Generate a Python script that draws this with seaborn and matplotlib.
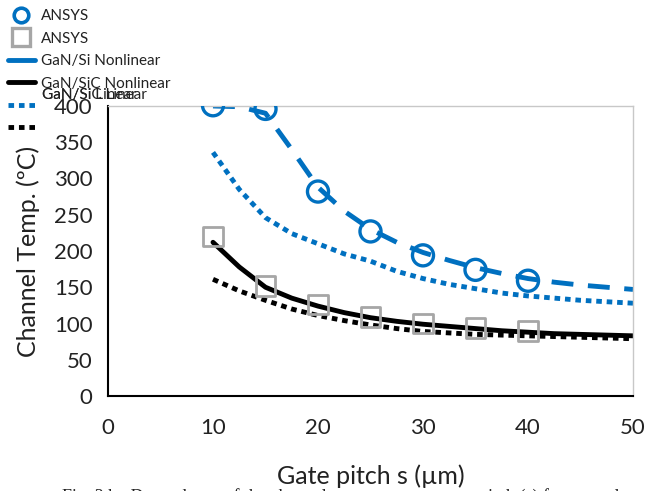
import matplotlib
matplotlib.use("Agg")
import matplotlib.pyplot as plt
from matplotlib.lines import Line2D
import seaborn as sns
import pandas as pd

# ---- data ----
ansys_x = [10, 15, 20, 25, 30, 35, 40]
ansys_si = [401, 396, 282, 227, 194, 174, 159]
ansys_sic = [220, 152, 126, 109, 100, 94, 90]

curve_x = [10, 12.5, 15, 17.5, 20, 22.5, 25, 27.5, 30, 32.5, 35, 37.5, 40, 42.5, 45, 47.5, 50]
si_nonlinear = [400, 399, 390, 340, 288, 255, 230, 212, 198, 187, 177, 169, 162, 157, 153, 150, 147]
sic_nonlinear = [212, 178, 150, 135, 124, 115, 108, 103, 99, 96, 93, 90, 88, 86, 85, 84, 83]
si_linear = [336, 285, 246, 224, 210, 196, 186, 172, 162, 154, 148, 142, 138, 135, 132, 130, 128]
sic_linear = [161, 145, 132, 120, 111, 104, 98, 93, 89, 87, 85, 84, 83, 82, 81, 80, 79]

x_ticks = [0, 10, 20, 30, 40, 50]
y_ticks = [0, 50, 100, 150, 200, 250, 300, 350, 400]

BLUE = "#0070C0"
GRAY = "#A6A6A6"
TXT = "#222222"

sns.set_theme(style="white")
plt.rcParams['font.family'] = ['Lato', 'DejaVu Sans']

fig = plt.figure(figsize=(6.47, 4.91), dpi=100)
ax = fig.add_axes([108/647, 1-396/491, (633-108)/647, (396-106)/491])

curves = pd.DataFrame({"x": curve_x, "si_nl": si_nonlinear, "sic_nl": sic_nonlinear,
                       "si_l": si_linear, "sic_l": sic_linear})
pts = pd.DataFrame({"x": ansys_x, "si": ansys_si, "sic": ansys_sic})

lw = 3.5
DOT = (0, (1.15, 1.0))
DASH = (0, (4.5, 3.0))
sns.lineplot(data=curves, x="x", y="si_l", ax=ax, color=BLUE, lw=lw,
             linestyle=DOT, dash_capstyle="butt")
sns.lineplot(data=curves, x="x", y="sic_l", ax=ax, color="black", lw=lw,
             linestyle=DOT, dash_capstyle="butt")
sns.lineplot(data=curves, x="x", y="sic_nl", ax=ax, color="black", lw=lw)
sns.lineplot(data=curves, x="x", y="si_nl", ax=ax, color=BLUE, lw=lw,
             linestyle=DASH, dash_capstyle="butt")
sns.scatterplot(data=pts, x="x", y="si", ax=ax, marker="o", s=230,
                facecolor="none", edgecolor=BLUE, linewidth=2.4, zorder=5)
sns.scatterplot(data=pts, x="x", y="sic", ax=ax, marker="s", s=200,
                facecolor="none", edgecolor=GRAY, linewidth=2.0, zorder=4)

ax.set_xlim(0, 50)
ax.set_ylim(0, 400)
ax.set_xticks(x_ticks)
ax.set_yticks(y_ticks)
ax.tick_params(axis="both", direction="in", length=7, width=1.2, colors="black",
               labelsize=16, labelcolor=TXT)
ax.tick_params(axis="x", pad=16)
ax.tick_params(axis="y", pad=11)
for s in ["left", "bottom"]:
    ax.spines[s].set_color("black")
    ax.spines[s].set_linewidth(1.5)
for s in ["top", "right"]:
    ax.spines[s].set_color("#C8C8C8")
    ax.spines[s].set_linewidth(1.0)
ax.set_xlabel("Gate pitch s (µm)", fontsize=18, color=TXT, labelpad=19)
ax.set_ylabel("Channel Temp. (ºC)", fontsize=18, color=TXT, labelpad=10)

handles = [
    Line2D([], [], marker="o", ls="none", mfc="none", mec=BLUE, ms=10.5, mew=2.6),
    Line2D([], [], marker="s", ls="none", mfc="none", mec=GRAY, ms=13, mew=2.4),
    Line2D([], [], color=BLUE, lw=lw),
    Line2D([], [], color="black", lw=lw),
    Line2D([], [], color=BLUE, lw=lw, linestyle=DOT, dash_capstyle="butt"),
    Line2D([], [], color="black", lw=lw, linestyle=DOT, dash_capstyle="butt"),
]
labels = ["ANSYS", "ANSYS", "GaN/Si Nonlinear", "GaN/SiC Nonlinear", "", ""]
leg = fig.legend(handles, labels, loc="upper left", bbox_to_anchor=(8/647, 1-9/491),
                 frameon=False, fontsize=11, handlelength=1.75, handletextpad=0.4,
                 labelspacing=0.56, borderaxespad=0, borderpad=0)
for t in leg.get_texts():
    t.set_color(TXT)
fig.text(42/647, 1-95/491, "GaN/Si Linear", fontsize=11, color=TXT, va="center")
fig.text(42/647, 1-95/491, "GaN/SiC Linear", fontsize=11, color=TXT, va="center")

fig.text(62/647, -0.012, "Fig. 3 b.  Dependence of the channel temperature on gate pitch (s) for several",
         fontsize=13, family="Liberation Serif", color=TXT, va="center")

fig.savefig("out.png", dpi=100)
